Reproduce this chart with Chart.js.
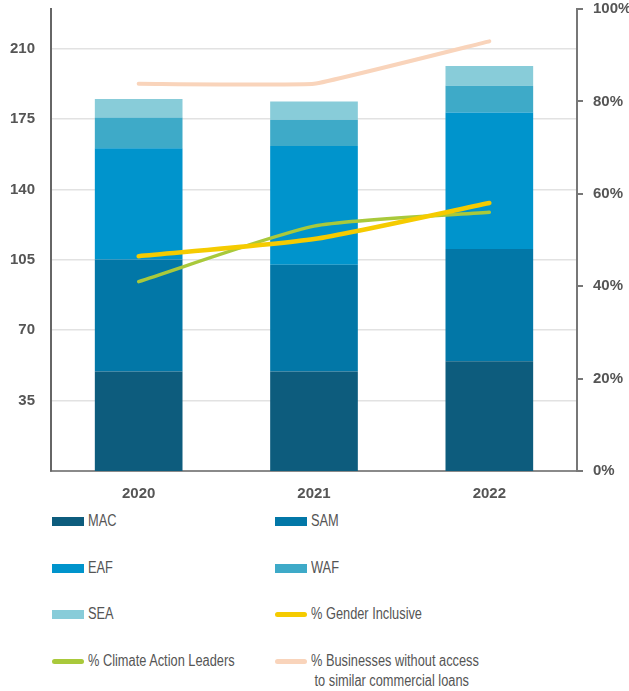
<!DOCTYPE html>
<html>
<head>
<meta charset="utf-8">
<script src="https://cdn.jsdelivr.net/npm/chart.js@4"></script>
<style>
  body { margin: 0; background: #fff; width: 629px; height: 691px; overflow: hidden; position: relative;
         font-family: "Liberation Sans", Arial, sans-serif; }
  #grafico { position: absolute; left: 0; top: 0; }
  .leyenda { position: absolute; font-size: 16px; color: #555; white-space: pre; line-height: 20px;
             transform: scaleX(0.8); transform-origin: 0 50%; }
  .caja { position: absolute; }
</style>
</head>
<body>
<canvas id="grafico" width="629" height="505"></canvas>
<div id="leyendaBox"></div>
<script>
const anios = ['2020', '2021', '2022'];
// montos por region (eje izquierdo)
const mac = [49.5, 49.5, 54.6];
const sam = [55.7, 53.0, 55.8];
const eaf = [55.3, 59.1, 67.8];
const waf = [15.2, 13.0, 13.4];
const sea = [9.2, 9.1, 9.8];
// porcentajes (eje derecho)
const generoPct = [46.5, 50.2, 58.0];
const climaPct = [41.0, 53.0, 56.0];
const sinAccesoPct = [83.8, 83.8, 93.0];
const ticksIzq = [35, 70, 105, 140, 175, 210];
const ticksDer = [0, 20, 40, 60, 80, 100];

const gris = '#555';
const fuente = '"Liberation Sans", Arial, sans-serif';

function barra(label, data, color){
    return { type: 'bar', label: label, data: data, backgroundColor: color, borderWidth: 0,
             stack: 'regiones', order: 1, barPercentage: 0.5, categoryPercentage: 1, yAxisID: 'y' };
}
function linea(label, data, color, ancho, tension){
    return { type: 'line', label: label, data: data, borderColor: color, backgroundColor: color,
             borderWidth: ancho, tension: tension, pointRadius: 0, borderCapStyle: 'round',
             borderJoinStyle: 'round', order: 0, yAxisID: 'y1', fill: false };
}

const datasets = [
    barra('MAC', mac, '#0d5c7d'),
    barra('SAM', sam, '#0277a7'),
    barra('EAF', eaf, '#0094cc'),
    barra('WAF', waf, '#3eaac8'),
    barra('SEA', sea, '#88ccd9'),
    linea('% Gender Inclusive', generoPct, '#f5cb00', 4.5, 0.2),
    linea('% Climate Action Leaders', climaPct, '#a9c93b', 3.5, 0.2),
    linea('% Businesses without access\n to similar commercial loans', sinAccesoPct, '#f9d4bb', 4, 0.08)
];

const sinRelleno = (s) => { s.paddingTop = 0; s.paddingBottom = 0; };

const grafico = new Chart(document.getElementById('grafico').getContext('2d'), {
    data: { labels: anios, datasets: datasets },
    options: {
        responsive: false,
        animation: false,
        layout: { padding: { top: 9, left: 0, right: 0, bottom: 0 } },
        plugins: { legend: { display: false }, tooltip: { enabled: false } },
        scales: {
            x: {
                stacked: true,
                grid: { display: false, drawTicks: false },
                border: { color: '#8a8a8a', width: 2 },
                ticks: { color: gris, padding: 14, font: { family: fuente, size: 15, weight: 'bold' } },
                afterFit: (s) => { s.height = 34; s.paddingLeft = 0; s.paddingRight = 0; }
            },
            y: {
                stacked: true,
                position: 'left',
                min: 0, max: 229.7,
                afterBuildTicks: (s) => { s.ticks = ticksIzq.map(v => ({ value: v })); },
                grid: { color: '#e2e2e2', lineWidth: 1.5, drawTicks: false },
                border: { color: '#666', width: 2 },
                ticks: { color: gris, padding: 16, font: { family: fuente, size: 15, weight: 'bold' } },
                afterFit: (s) => { s.width = 51; sinRelleno(s); }
            },
            y1: {
                position: 'right',
                min: 0, max: 100,
                afterBuildTicks: (s) => { s.ticks = ticksDer.map(v => ({ value: v })); },
                grid: { drawOnChartArea: false, tickLength: 6, color: '#777', lineWidth: 2 },
                border: { color: '#777', width: 2 },
                ticks: { color: gris, padding: 10, font: { family: fuente, size: 15, weight: 'bold' },
                         callback: (v) => v + '%' },
                afterFit: (s) => { s.width = 52; sinRelleno(s); }
            }
        }
    }
});

// leyenda en dos columnas
const cajaLeyenda = document.getElementById('leyendaBox');
const columnas = [52, 275], filas = [521, 568, 614, 661];
grafico.data.datasets.forEach((d, i) => {
    let x = columnas[i % 2], y = filas[Math.floor(i / 2)];
    let caja = document.createElement('div');
    caja.className = 'caja';
    let alto = d.type === 'bar' ? 9 : 5;
    caja.style.cssText = `left:${x}px;top:${y - alto / 2}px;width:32px;height:${alto}px;background:${d.type === 'bar' ? d.backgroundColor : d.borderColor};border-radius:${d.type === 'bar' ? 0 : 3}px`;
    cajaLeyenda.appendChild(caja);
    let texto = document.createElement('div');
    texto.className = 'leyenda';
    texto.style.left = (x + 36) + 'px';
    texto.style.top = (y - 10) + 'px';
    texto.textContent = d.label;
    cajaLeyenda.appendChild(texto);
});
</script>
</body>
</html>
